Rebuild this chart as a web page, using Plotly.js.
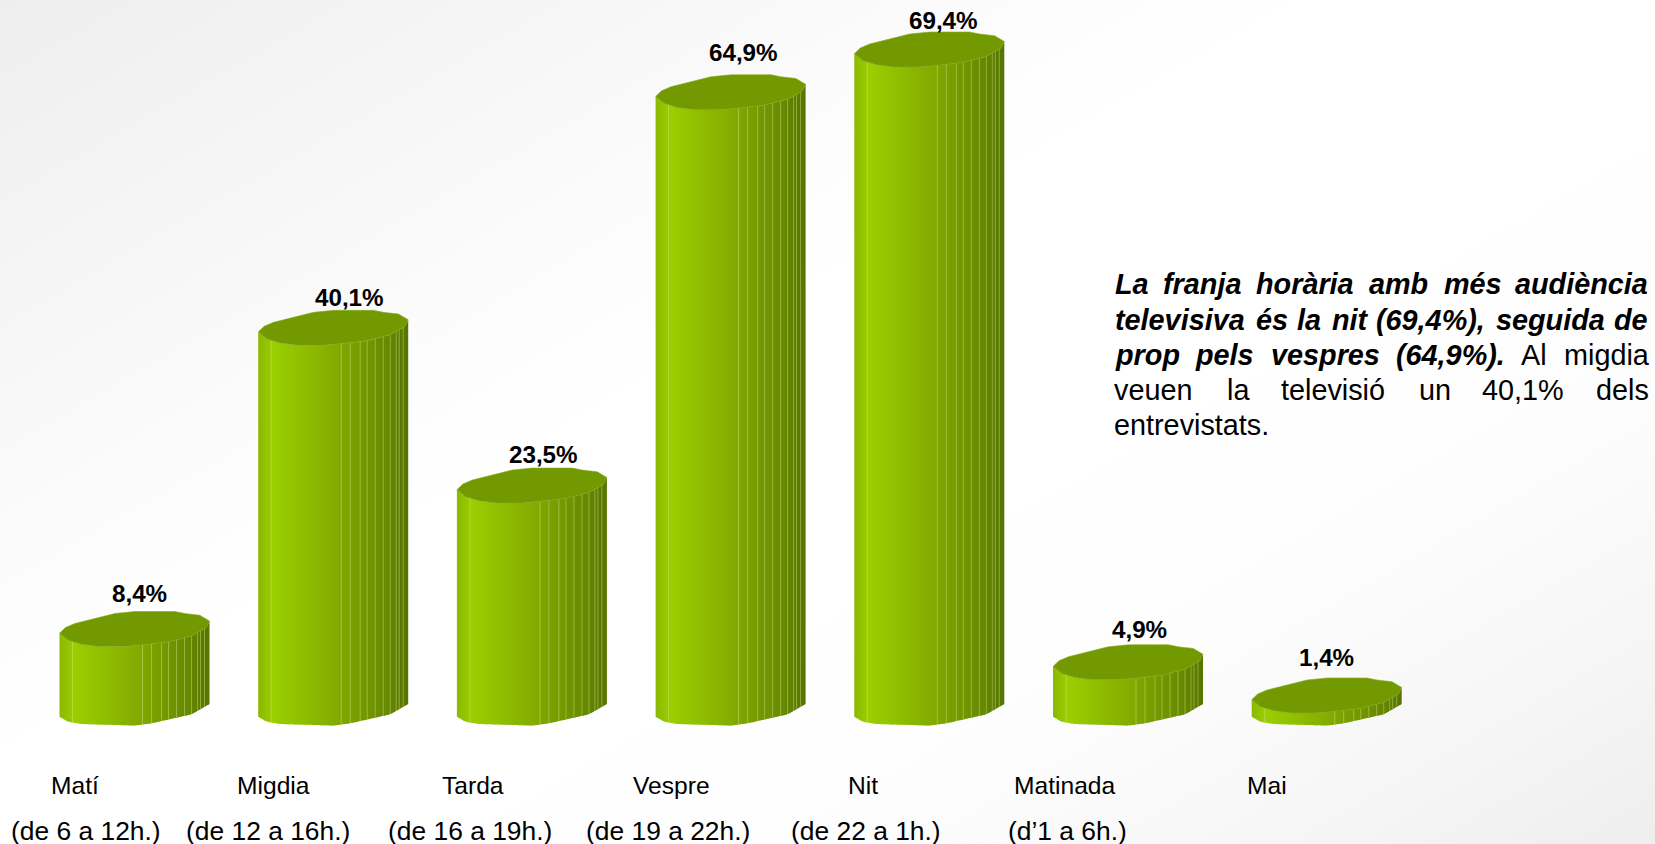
<!DOCTYPE html>
<html><head><meta charset="utf-8">
<script src="https://cdn.plot.ly/plotly-3.0.1.min.js"></script>
<style>
html,body{margin:0;padding:0;width:1655px;height:844px;overflow:hidden;
background:linear-gradient(150deg,#eeeeee 0%,#fbfbfb 30%,#ffffff 42%,#ffffff 60%,#fdfdfd 74%,#f6f6f6 88%,#eeeeee 100%);}
#c{width:1655px;height:844px}
</style></head><body><div id="c"></div>
<script>
// ---- data ----
const categories = ["Matí","Migdia","Tarda","Vespre","Nit","Matinada","Mai"];
const hours = ["(de 6 a 12h.)","(de 12 a 16h.)","(de 16 a 19h.)","(de 19 a 22h.)","(de 22 a 1h.)","(d’1 a 6h.)"];
const values = [8.4,40.1,23.5,64.9,69.4,4.9,1.4];
const valueLabels = ["8,4%","40,1%","23,5%","64,9%","69,4%","4,9%","1,4%"];
const noteLines = [
  {b:true, w:["La","franja","horària","amb","més","audiència"]},
  {b:true, w:["televisiva","és","la","nit","(69,4%),","seguida","de"]},
  {b:true, w:["prop","pels","vespres","(64,9%)."]},
  {b:false,w:["veuen","la","televisió","un","40,1%","dels"]},
  {b:false,w:["entrevistats."]}
];
const extraLine3 = ["Al","migdia"];

// ---- placement / style ----
const W=1655,H=844, x0=134.5, step=198.7, y0=709, pxPer=9.5;
const labelDx=[5,16,11.5,13,14,11,0], labelDy=[36,31,31,40,29.5,33,38];
const catDx=[-59.5,-60,-59,-59,-66,-64,-60], subDx=[-49,-65,-62,-63,-63.5,-61];
const seamPx=[13,83,92,102,109,117,125,132,138,141,145];
const stops=[[0,[139,184,0]],[0.1,[155,207,0]],[0.5,[132,173,0]],[0.85,[103,138,0]],[1,[86,116,0]]];
// faceted rim of the cylinder, in pixels around its centre
const rimLower=[[-75,4],[-66.3,11],[-53,15],[-36,17.3],[-9.7,17.3],[7,15.7],[33.7,12.7],[57,6.7],[72,-1.7],[75,-8.3]];
const rimUpper=[[-75,4],[-69,-1.7],[-59.7,-5.7],[-39.7,-10.7],[-19.7,-15.7],[0.3,-17.7],[40.3,-17.7],[50.3,-15.7],[65.3,-14],[75,-8.3]];
const rimBase=[[-75,7.7],[-66.3,12.7],[-53,15],[0.3,16.5],[17,14.3],[57,5.3],[75,-5]];

function colorAt(f){for(let i=1;i<stops.length;i++){if(f<=stops[i][0]){const p=(f-stops[i-1][0])/(stops[i][0]-stops[i-1][0]);
  const c=stops[i-1][1].map((v,k)=>Math.round(v+(stops[i][1][k]-v)*p));return `rgb(${c})`;}}return `rgb(${stops[4][1]})`;}
function edge(tab,px){for(let i=1;i<tab.length;i++){if(px<=tab[i][0]){const p=(px-tab[i-1][0])/(tab[i][0]-tab[i-1][0]);return tab[i-1][1]+(tab[i][1]-tab[i-1][1])*p;}}return tab[tab.length-1][1];}
const X=(i,px)=>i+px/step;
const Y=(v,py)=>v-py/pxPer;

const traces=[];
const N=75;
for(let k=0;k<N;k++){
  const p1=-75+2*k, p2=Math.min(75,p1+3), xs=[],ys=[];
  values.forEach((v,i)=>{
    xs.push(X(i,p1),X(i,p2),X(i,p2),X(i,p1),X(i,p1),null);
    ys.push(Y(0,edge(rimBase,p1)),Y(0,edge(rimBase,p2)),Y(v,edge(rimLower,p2)),Y(v,edge(rimLower,p1)),Y(0,edge(rimBase,p1)),null);
  });
  traces.push({type:'scatter',mode:'lines',x:xs,y:ys,fill:'toself',fillcolor:colorAt((k+.5)/N),
    line:{width:0},hoverinfo:'skip',showlegend:false});
}
// seams
{const xs=[],ys=[];values.forEach((v,i)=>seamPx.forEach(p=>{const q=p-75;xs.push(X(i,q),X(i,q),null);ys.push(Y(0,edge(rimBase,q)),Y(v,edge(rimLower,q)),null);}));
 traces.push({type:'scatter',mode:'lines',x:xs,y:ys,line:{width:1,color:'rgba(214,232,150,0.42)'},hoverinfo:'skip',showlegend:false});}
// top faces
{const xs=[],ys=[];const loop=rimUpper.concat(rimLower.slice().reverse());
 values.forEach((v,i)=>{loop.forEach(p=>{xs.push(X(i,p[0]));ys.push(Y(v,p[1]));});xs.push(null);ys.push(null);});
 traces.push({type:'scatter',mode:'lines',x:xs,y:ys,fill:'toself',fillcolor:'#729900',line:{width:0.6,color:'#8aab22'},hoverinfo:'skip',showlegend:false});}

const FF='"Liberation Sans",Arial,sans-serif';
const ann=[];
const T=(o)=>ann.push(Object.assign({showarrow:false,borderpad:0,borderwidth:0},o));
values.forEach((v,i)=>T({xref:'x',yref:'y',x:i,y:v,xshift:labelDx[i],yshift:labelDy[i],text:`<b>${valueLabels[i]}</b>`,xanchor:'center',yanchor:'middle',
  font:{family:FF,size:24.2,color:'#000'}}));
categories.forEach((c,i)=>T({xref:'x',yref:'paper',x:i,y:1-785/H,xshift:catDx[i],text:c,xanchor:'center',yanchor:'middle',font:{family:FF,size:24.6,color:'#000'}}));
hours.forEach((c,i)=>T({xref:'x',yref:'paper',x:i,y:1-831/H,xshift:subDx[i],text:c,xanchor:'center',yanchor:'middle',font:{family:FF,size:26.4,color:'#000'}}));
const noteX=[[45,180,443,762,975,1175],[45,443,559,658,783,1122,1455],[45,270,487,840],[40,358,510,900,1078,1400],[40]];
const noteY=[284,320,355,389.5,425];
noteLines.forEach((l,r)=>l.w.forEach((w,j)=>T({xref:'paper',yref:'paper',x:(1100+noteX[r][j]/2.825-(l.b?1:0))/W,y:1-noteY[r]/H,text:l.b?`<b><i>${w}</i></b>`:w,xanchor:'left',yanchor:'middle',
  font:{family:FF,size:28.8,color:'#000'}})));
extraLine3.forEach((w,j)=>T({xref:'paper',yref:'paper',x:(1100+[1190,1310][j]/2.825)/W,y:1-noteY[2]/H,text:w,xanchor:'left',yanchor:'middle',
  font:{family:FF,size:28.8,color:'#000'}}));

Plotly.newPlot('c',traces,{
  width:W,height:H,margin:{l:0,r:0,t:0,b:0},paper_bgcolor:'rgba(0,0,0,0)',plot_bgcolor:'rgba(0,0,0,0)',
  showlegend:false,hovermode:false,
  xaxis:{range:[-x0/step,(W-x0)/step],visible:false,fixedrange:true},
  yaxis:{range:[(y0-H)/pxPer,y0/pxPer],visible:false,fixedrange:true},
  annotations:ann
},{displayModeBar:false,staticPlot:true});
</script></body></html>
